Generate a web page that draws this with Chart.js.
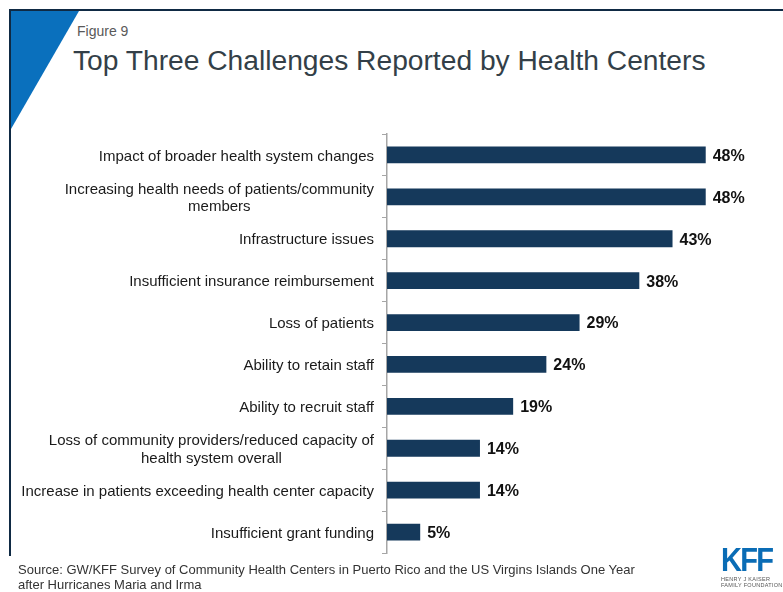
<!DOCTYPE html>
<html>
<head>
<meta charset="utf-8">
<script src="https://cdn.jsdelivr.net/npm/chart.js@4.4.0/dist/chart.umd.min.js"></script>
<style>
  html, body { margin: 0; padding: 0; background: #fff; }
  body { width: 783px; height: 592px; position: relative; overflow: hidden; font-family: "Liberation Sans", Arial, sans-serif; }
  #frame { position: absolute; left: 9px; top: 9px; width: 774px; height: 547px; border-top: 2px solid #0f2a44; border-left: 2px solid #0f2a44; box-sizing: border-box; }
  #corner { position: absolute; left: 11px; top: 11px; width: 68px; height: 118px; background: #0a70bd; clip-path: polygon(0 0, 100% 0, 0 100%); }
  #fig { position: absolute; left: 77px; top: 23px; font-size: 14px; color: #595959; }
  #title { position: absolute; left: 73px; top: 44px; font-size: 28.2px; color: #333f48; white-space: nowrap; }
  #source { position: absolute; left: 18px; top: 562px; font-size: 13px; line-height: 15px; color: #333; }
  #logo { position: absolute; left: 721px; top: 543px; }
  #logo .kff { font-size: 33px; font-weight: bold; color: #0a6cb5; letter-spacing: -2px; transform: scaleX(0.88); transform-origin: left top; line-height: 33px; }
  #logo .sub { font-size: 5.5px; line-height: 6px; color: #555; letter-spacing: 0.3px; }
  canvas { position: absolute; left: 0; top: 0; }
</style>
</head>
<body>
<div id="frame"></div>
<div id="corner"></div>
<div id="fig">Figure 9</div>
<div id="title">Top Three Challenges Reported by Health Centers</div>
<canvas id="chart" width="783" height="592"></canvas>
<div id="source">Source: GW/KFF Survey of Community Health Centers in Puerto Rico and the US Virgins Islands One Year<br>after Hurricanes Maria and Irma</div>
<div id="logo"><div class="kff">KFF</div><div class="sub">HENRY J KAISER<br>FAMILY FOUNDATION</div></div>
<script>
const challenges = [
  ['Impact of broader health system changes'],
  ['Increasing health needs of patients/community', 'members'],
  ['Infrastructure issues'],
  ['Insufficient insurance reimbursement'],
  ['Loss of patients'],
  ['Ability to retain staff'],
  ['Ability to recruit staff'],
  ['Loss of community providers/reduced capacity of', 'health system overall'],
  ['Increase in patients exceeding health center capacity'],
  ['Insufficient grant funding']
]
const shares = [48, 48, 43, 38, 29, 24, 19, 14, 14, 5]

const barColor = '#15395b'
const axisGray = '#a6a6a6'

// category text drawn left of the axis, wrapped lines centred on each other
const categoryLabels = {
  id: 'categoryLabels',
  afterDraw (chart) {
    const { ctx } = chart
    const y = chart.scales.y
    const right = y.left - 8
    ctx.save()
    ctx.font = '15px "Liberation Sans", Arial, sans-serif'
    ctx.fillStyle = '#1a1a1a'
    ctx.textAlign = 'center'
    ctx.textBaseline = 'middle'
    const lh = 17.5
    challenges.forEach((lines, i) => {
      const cy = y.getPixelForValue(i) + 1.5
      const w = Math.max(...lines.map(l => ctx.measureText(l).width))
      const cx = right - w / 2
      const y0 = cy - (lines.length - 1) * lh / 2
      lines.forEach((l, j) => ctx.fillText(l, cx, y0 + j * lh))
    })
    ctx.restore()
  }
}

// percent labels at the end of each bar
const valueLabels = {
  id: 'valueLabels',
  afterDatasetsDraw (chart) {
    const { ctx } = chart
    const meta = chart.getDatasetMeta(0)
    ctx.save()
    ctx.font = 'bold 16px "Liberation Sans", Arial, sans-serif'
    ctx.fillStyle = '#111'
    ctx.textAlign = 'left'
    ctx.textBaseline = 'middle'
    meta.data.forEach((bar, i) => {
      ctx.fillText(shares[i] + '%', bar.x + 7, bar.y + 1.5)
    })
    ctx.restore()
  }
}

new Chart(document.getElementById('chart'), {
  type: 'bar',
  data: {
    labels: challenges.map(l => l.join(' ')),
    datasets: [{
      data: shares,
      backgroundColor: barColor,
      borderWidth: 0,
      categoryPercentage: 1,
      barPercentage: 0.4
    }]
  },
  options: {
    indexAxis: 'y',
    responsive: false,
    animation: false,
    events: [],
    layout: { padding: { left: 382, right: 64, top: 134, bottom: 39 } },
    plugins: { legend: { display: false }, tooltip: { enabled: false } },
    scales: {
      x: { display: false, min: 0, max: 50 },
      y: {
        ticks: { display: false },
        grid: { drawOnChartArea: false, drawTicks: true, tickLength: 5, color: axisGray },
        border: { display: true, color: axisGray, width: 1.5 },
        afterFit (scale) { scale.width = 5 }
      }
    }
  },
  plugins: [categoryLabels, valueLabels]
})
</script>
</body>
</html>
